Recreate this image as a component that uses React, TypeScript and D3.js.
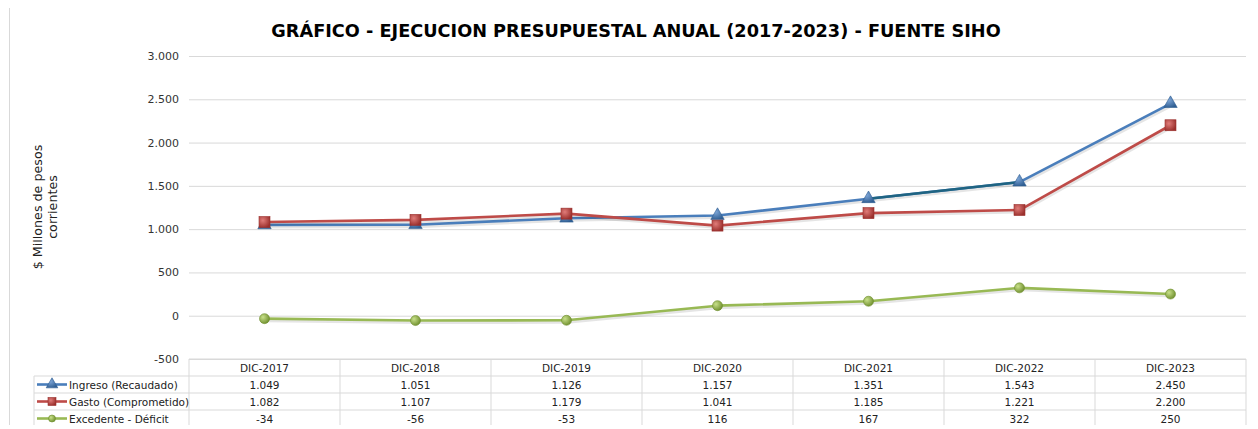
import React, { useEffect, useRef } from "react";
import * as d3 from "d3";

const categories = ["DIC-2017", "DIC-2018", "DIC-2019", "DIC-2020", "DIC-2021", "DIC-2022", "DIC-2023"];
const ingreso = [1049, 1051, 1126, 1157, 1351, 1543, 2450];
const gasto = [1082, 1107, 1179, 1041, 1185, 1221, 2200];
const excedente = [-34, -56, -53, 116, 167, 322, 250];
const yTicks = [-500, 0, 500, 1000, 1500, 2000, 2500, 3000];

const series = [
  { name: "Ingreso (Recaudado)", values: ingreso, color: "#4A7EBB", dark: "#2F5E92", light: "#7FA7D9", marker: "triangle" },
  { name: "Gasto (Comprometido)", values: gasto, color: "#BE4B48", dark: "#9A2F2C", light: "#E07C79", marker: "square" },
  { name: "Excedente - Déficit", values: excedente, color: "#98B954", dark: "#6F8F2E", light: "#C8E08A", marker: "circle" },
];

const fmt = (v: number) => {
  const s = Math.abs(v).toString().replace(/\B(?=(\d{3})+(?!\d))/g, ".");
  return (v < 0 ? "-" : "") + s;
};

const App = () => {
  const svgRef = useRef<SVGSVGElement>(null);

  useEffect(() => {
    const width = 1258;
    const height = 429;
    const svg = d3.select(svgRef.current);
    svg.selectAll("*").remove();
    svg.attr("width", width).attr("height", height);

    const font = "DejaVu Sans, Verdana, sans-serif";
    const left = 189;
    const right = 1246;
    const rowH = 17;

    // gradients for markers
    const defs = svg.append("defs");
    series.forEach((s, i) => {
      const g = defs.append("radialGradient").attr("id", `grad${i}`).attr("cx", "35%").attr("cy", "35%").attr("r", "70%");
      g.append("stop").attr("offset", "0%").attr("stop-color", s.light);
      g.append("stop").attr("offset", "100%").attr("stop-color", s.dark);
    });

    // chart border
    svg.append("rect")
      .attr("x", 9.5).attr("y", 6.5).attr("width", 1243).attr("height", 430)
      .attr("fill", "#fff").attr("stroke", "#d9d9d9");

    // title
    svg.append("text")
      .attr("x", 636).attr("y", 37)
      .attr("text-anchor", "middle")
      .style("font-family", font).style("font-size", "17.7px").style("font-weight", "bold")
      .text("GRÁFICO - EJECUCION PRESUPUESTAL ANUAL (2017-2023) - FUENTE SIHO");

    const x = d3.scaleBand().domain(categories).range([left, right]);
    const y = d3.scaleLinear().domain([-500, 3000]).range([359, 56]);

    // gridlines + y labels
    const yAxis = svg.append("g")
      .attr("transform", `translate(${left},0)`)
      .call(d3.axisLeft(y).tickValues(yTicks).tickSize(-(right - left)).tickFormat((d) => fmt(d as number)));
    yAxis.select(".domain").remove();
    yAxis.selectAll(".tick line").attr("stroke", "#d9d9d9");
    yAxis.selectAll(".tick text")
      .attr("x", -10).attr("fill", "#333")
      .style("font-family", font).style("font-size", "11px");

    // y axis title
    svg.append("text")
      .attr("transform", "translate(42,207) rotate(-90)")
      .attr("text-anchor", "middle")
      .style("font-family", font).style("font-size", "12.7px").attr("fill", "#222")
      .selectAll("tspan")
      .data(["$ Millones de pesos", "corrientes"])
      .enter()
      .append("tspan")
      .attr("x", 0)
      .attr("dy", (d, i) => (i === 0 ? 0 : 15))
      .text((d) => d);

    const cx = (i: number) => (x(categories[i]) as number) + x.bandwidth() / 2;

    const line = d3.line<number>().x((d, i) => cx(i)).y((d) => y(d));

    // lines with shadow
    series.forEach((s) => {
      svg.append("path")
        .datum(s.values)
        .attr("fill", "none")
        .attr("stroke", "rgba(0,0,0,0.1)")
        .attr("stroke-width", 3)
        .attr("transform", "translate(1,2)")
        .attr("d", line);
      svg.append("path")
        .datum(s.values)
        .attr("fill", "none")
        .attr("stroke", s.color)
        .attr("stroke-width", 2.6)
        .attr("stroke-linejoin", "round")
        .attr("d", line);
    });

    // darker segment on ingreso between 2021 and 2022
    svg.append("path")
      .datum(ingreso.slice(4, 6))
      .attr("fill", "none")
      .attr("stroke", "#1F6482")
      .attr("stroke-width", 2.6)
      .attr("d", d3.line<number>().x((d, i) => cx(i + 4)).y((d) => y(d)));

    // markers
    const drawMarker = (g: any, type: string, fill: string, stroke: string, px: number, py: number, size: number) => {
      if (type === "triangle") {
        g.append("path")
          .attr("d", d3.symbol().type(d3.symbolTriangle).size(size * 6.5)())
          .attr("transform", `translate(${px},${py})`)
          .attr("fill", fill).attr("stroke", stroke).attr("stroke-width", 0.6);
      } else if (type === "square") {
        g.append("rect")
          .attr("x", px - size / 2).attr("y", py - size / 2)
          .attr("width", size).attr("height", size)
          .attr("fill", fill).attr("stroke", stroke).attr("stroke-width", 0.6);
      } else {
        g.append("circle")
          .attr("cx", px).attr("cy", py).attr("r", size / 2)
          .attr("fill", fill).attr("stroke", stroke).attr("stroke-width", 0.6);
      }
    };

    const markerSizes = [12, 11, 10];
    series.forEach((s, si) => {
      const g = svg.append("g");
      s.values.forEach((v, i) => {
        drawMarker(g, s.marker, `url(#grad${si})`, s.dark, cx(i), y(v), markerSizes[si]);
      });
    });

    // data table
    const tableTop = y(-500);
    const gridColor = "#d9d9d9";
    const tbl = svg.append("g");
    tbl.append("line").attr("x1", left).attr("x2", right).attr("y1", tableTop).attr("y2", tableTop).attr("stroke", gridColor);
    for (let r = 1; r <= 4; r++) {
      tbl.append("line")
        .attr("x1", 34).attr("x2", right)
        .attr("y1", tableTop + r * rowH).attr("y2", tableTop + r * rowH)
        .attr("stroke", gridColor);
    }
    tbl.append("line").attr("x1", 34).attr("x2", 34).attr("y1", tableTop + rowH).attr("y2", tableTop + 4 * rowH).attr("stroke", gridColor);
    categories.forEach((c) => {
      const x0 = x(c) as number;
      tbl.append("line").attr("x1", x0).attr("x2", x0).attr("y1", tableTop).attr("y2", tableTop + 4 * rowH).attr("stroke", gridColor);
    });
    tbl.append("line").attr("x1", right).attr("x2", right).attr("y1", tableTop).attr("y2", tableTop + 4 * rowH).attr("stroke", gridColor);

    const txt = (px: number, py: number, t: string, anchor = "middle") =>
      tbl.append("text")
        .attr("x", px).attr("y", py)
        .attr("text-anchor", anchor)
        .attr("fill", "#222")
        .style("font-family", font).style("font-size", "10.5px")
        .text(t);

    categories.forEach((c, i) => txt(cx(i), tableTop + 13, c));
    series.forEach((s, si) => {
      const ry = tableTop + (si + 1) * rowH;
      s.values.forEach((v, i) => txt(cx(i), ry + 13, fmt(v)));
      // legend key
      tbl.append("line")
        .attr("x1", 37).attr("x2", 67).attr("y1", ry + 8.5).attr("y2", ry + 8.5)
        .attr("stroke", s.color).attr("stroke-width", 2.6);
      drawMarker(tbl, s.marker, `url(#grad${si})`, s.dark, 52, ry + 8.5, markerSizes[si] - 3);
      txt(69, ry + 13, s.name, "start");
    });
  }, []);

  return (
    <div style={{ margin: -8 }}>
      <svg ref={svgRef}></svg>
    </div>
  );
};

export default App;
